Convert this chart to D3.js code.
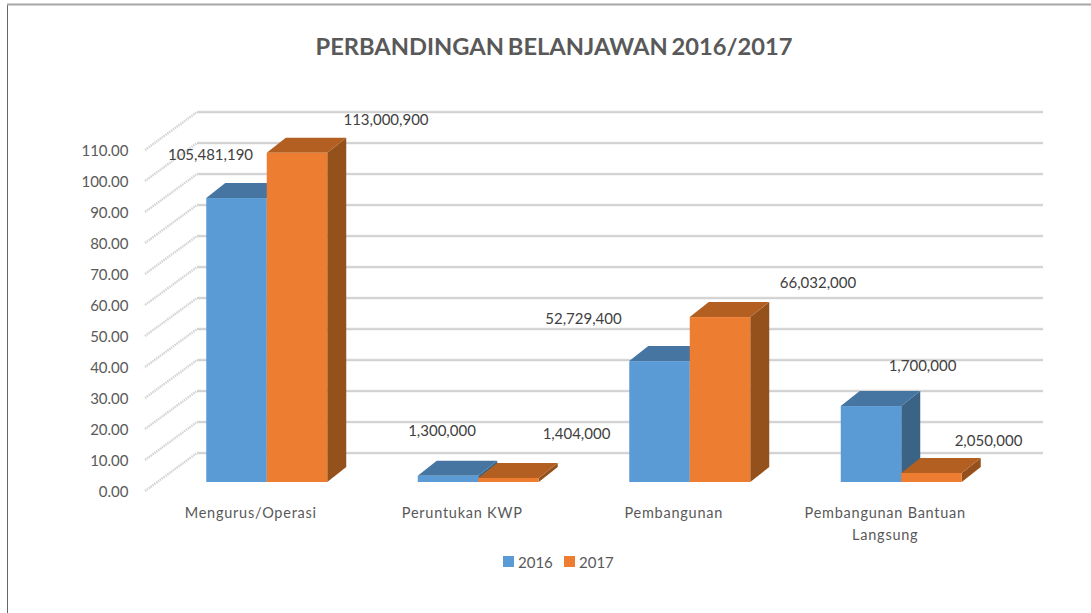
<!DOCTYPE html>
<html><head><meta charset="utf-8">
<script src="https://cdn.jsdelivr.net/npm/d3@7/dist/d3.min.js"></script>
<style>html,body{margin:0;padding:0;background:#fff;overflow:hidden}svg{display:block}text{font-family:Lato,"Open Sans",sans-serif;fill:#595959}</style>
</head><body><svg id="c" width="1091" height="613"></svg>
<script>
const categories = ["Mengurus/Operasi","Peruntukan KWP","Pembangunan","Pembangunan Bantuan|Langsung"];
const seriesNames = ["2016","2017"];
const heights2016 = [91.6,2,39,24.5];
const heights2017 = [106.2,1.3,53.2,2.9];
const labels2016 = ["105,481,190","1,300,000","52,729,400","1,700,000"];
const labels2017 = ["113,000,900","1,404,000","66,032,000","2,050,000"];
const yTicks = [0,10,20,30,40,50,60,70,80,90,100,110];
const labelOffsets2016 = [[-26,-43],[-6,-45],[-76,-43],[51.5,-40]];
const labelOffsets2017 = [[89,-33],[68,-44],[98,-34],[57,-32]];

const svg = d3.select("#c");
const W = 1091, H = 613;
const wallDX = 52, wallDY = 38, barShiftY = 29, barDX = 19, barDY = 15;
const yBack = d3.scaleLinear().domain([0,110]).range([453,112]);
const yBar = v => yBack(v) + barShiftY;
const xBand = d3.scaleBand().domain(categories).range([161,1007]).paddingInner(0).paddingOuter(0);
const xSeries = d3.scaleBand().domain(seriesNames).range([0,121]);
const offsetCat = (xBand.bandwidth()-121)/2;

svg.append("line").attr("x1",7.5).attr("x2",7.5).attr("y1",4).attr("y2",H).attr("stroke","#666").attr("stroke-width",1);
svg.append("line").attr("x1",7).attr("x2",W).attr("y1",4.5).attr("y2",4.5).attr("stroke","#a6a6a6").attr("stroke-width",2);

svg.append("text").attr("x",554).attr("y",55).attr("text-anchor","middle")
  .attr("font-size",23.7).attr("font-weight",700).attr("word-spacing",-2).text("PERBANDINGAN BELANJAWAN 2016/2017");

const grid = svg.append("g");
yTicks.forEach(t=>{
  const y = yBack(t);
  grid.append("line").attr("x1",197).attr("x2",1043).attr("y1",y).attr("y2",y).attr("stroke","#dcdcdc").attr("stroke-width",2.4);
  grid.append("line").attr("x1",197).attr("x2",1043).attr("y1",y+.2).attr("y2",y+.2).attr("stroke","#c4c4c4").attr("stroke-width",.6);
  grid.append("line").attr("x1",197-wallDX).attr("y1",y+wallDY).attr("x2",197).attr("y2",y)
    .attr("stroke","#d4d4d4").attr("stroke-width",2.4).attr("stroke-dasharray","1.5 .8");
  svg.append("text").attr("x",128.5).attr("y",y+wallDY+1).attr("dy","0.36em").attr("text-anchor","end")
    .attr("font-size",15).text(t.toFixed(2));
});

const colors = {
  "2016":{front:"#5B9BD5",top:"#4575A0",side:"#3A6386"},
  "2017":{front:"#ED7D31",top:"#B35F22",side:"#94511C"}
};
const series = [
  {name:"2016",vals:heights2016,labels:labels2016,off:labelOffsets2016},
  {name:"2017",vals:heights2017,labels:labels2017,off:labelOffsets2017}
];
const bars = svg.append("g");
const labelsG = svg.append("g");
categories.forEach((c,i)=>{
  series.forEach(s=>{
    const x0 = xBand(c)+offsetCat+xSeries(s.name), w = xSeries.bandwidth();
    const x1 = x0+w, yT = yBar(s.vals[i]), yB = yBar(0), col = colors[s.name];
    const g = bars.append("g");
    g.append("path").attr("fill",col.side).attr("d",`M${x1} ${yT}L${x1+barDX} ${yT-barDY}V${yB-barDY}L${x1} ${yB}Z`);
    g.append("path").attr("fill",col.top).attr("d",`M${x0} ${yT}L${x0+barDX} ${yT-barDY}H${x1+barDX}L${x1} ${yT}Z`);
    g.append("rect").attr("x",x0).attr("y",yT).attr("width",w).attr("height",yB-yT).attr("fill",col.front);
    labelsG.append("text").attr("x",x0+w/2+s.off[i][0]).attr("y",yT+s.off[i][1]).attr("dy","0.36em")
      .attr("text-anchor","middle").attr("font-size",15).style("fill","#404040").text(s.labels[i]);
  });
  const lines = c.split("|");
  lines.forEach((l,k)=>{
    svg.append("text").attr("x",xBand(c)+xBand.bandwidth()/2-16).attr("y",513+k*22).attr("dy","0.36em")
      .attr("text-anchor","middle").attr("font-size",14.5).attr("letter-spacing",0.75).text(l);
  });
});

const legendX = d3.scaleOrdinal().domain(seriesNames).range([503,564]);
seriesNames.forEach(n=>{
  svg.append("rect").attr("x",legendX(n)).attr("y",556).attr("width",11).attr("height",11).attr("fill",colors[n].front);
  svg.append("text").attr("x",legendX(n)+15).attr("y",563).attr("dy","0.36em").attr("font-size",15).text(n);
});
</script></body></html>
